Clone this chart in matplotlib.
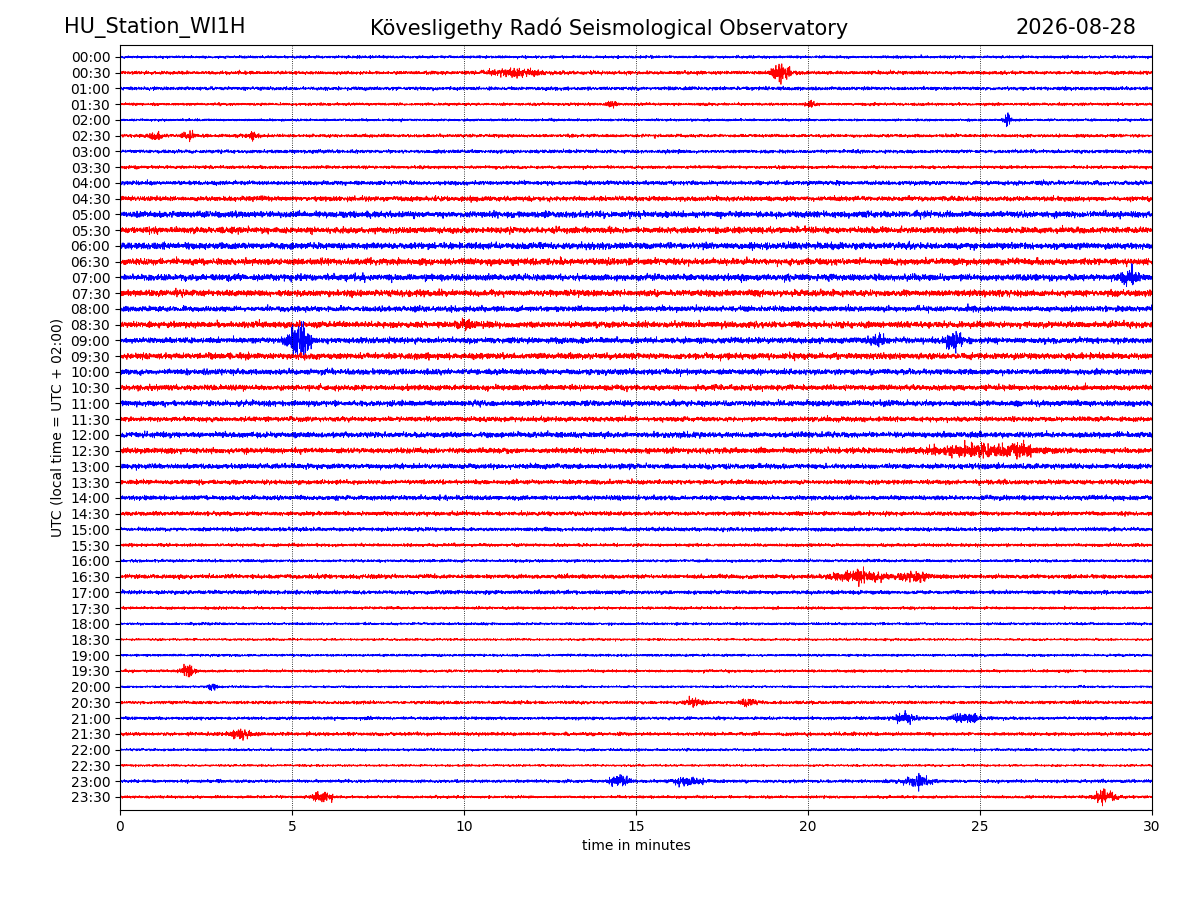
import matplotlib
matplotlib.use('Agg')
import matplotlib.pyplot as plt
import numpy as np

station = 'HU_Station_WI1H'
title = 'Kövesligethy Radó Seismological Observatory'
date = '2026-08-28'

row_labels = ['%02d:%02d' % (h, m) for h in range(24) for m in (0, 30)]

# background noise level of each half-hour row (in row units)
noise = [0.08, 0.10, 0.10, 0.08, 0.07, 0.09, 0.10, 0.09,
         0.12, 0.14, 0.18, 0.18, 0.19, 0.19, 0.19, 0.19,
         0.16, 0.18, 0.17, 0.18, 0.16, 0.16, 0.16, 0.14,
         0.16, 0.16, 0.15, 0.13, 0.13, 0.12, 0.11, 0.09,
         0.08, 0.12, 0.11, 0.08, 0.07, 0.06, 0.07, 0.08,
         0.06, 0.09, 0.09, 0.10, 0.07, 0.06, 0.09, 0.08]

# events: row index, minute, peak half-amplitude, duration (min)
ev_row = [1, 1, 3, 3, 4, 5, 5, 5, 14, 17, 18, 18, 18, 25, 25, 33, 33, 39, 40, 41, 41, 42, 42, 43, 46, 46, 46, 47, 47]
ev_min = [19.2, 11.5, 14.3, 20.1, 25.8, 1.0, 2.0, 3.9, 29.3, 10.0, 5.2, 24.2, 22.0, 26.2, 25.0, 21.5, 23.1, 2.0, 2.7, 16.7, 18.3, 22.8, 24.6, 3.5, 14.5, 16.5, 23.2, 5.9, 28.6]
ev_amp = [0.45, 0.22, 0.22, 0.2, 0.4, 0.22, 0.2, 0.2, 0.4, 0.3, 1.0, 0.6, 0.3, 0.45, 0.3, 0.3, 0.25, 0.3, 0.2, 0.25, 0.2, 0.3, 0.3, 0.3, 0.4, 0.25, 0.3, 0.3, 0.4]
ev_dur = [0.5, 1.5, 0.3, 0.3, 0.2, 0.4, 0.4, 0.3, 0.6, 0.4, 0.6, 0.5, 0.4, 0.4, 3.0, 1.5, 0.8, 0.4, 0.3, 0.5, 0.5, 0.6, 0.8, 0.5, 0.5, 0.8, 0.8, 0.6, 0.6]

fig = plt.figure(figsize=(12, 9), dpi=100)
ax = fig.add_axes([0.1, 0.1, 0.86, 0.85])

rng = np.random.default_rng(7)
t = np.linspace(0, 30, 6000)
for i in range(48):
    env = np.full_like(t, noise[i])
    for r, m, a, d in zip(ev_row, ev_min, ev_amp, ev_dur):
        if r == i:
            env = env + a * np.exp(-((t - m) / (d / 2)) ** 2)
    y = np.clip(rng.standard_normal(t.size) * env / 2.2, -1.2, 1.2)
    ax.plot(t, -i + y, color='blue' if i % 2 == 0 else 'red', lw=0.6)

ax.set_xlim(0, 30)
ax.set_ylim(-47.83, 0.76)
ax.set_yticks(-np.arange(48))
ax.set_yticklabels(row_labels)
ax.set_xticks(range(0, 31, 5))
for xv in range(5, 30, 5):
    ax.axvline(xv, color='black', ls=':', lw=0.6)
ax.set_xlabel('time in minutes')
ax.set_ylabel('UTC (local time = UTC + 02:00)')

fig.text(0.053, 0.969, station, fontsize=15, va='center')
fig.text(0.508, 0.969, title, fontsize=15, va='center', ha='center')
fig.text(0.947, 0.969, date, fontsize=15, va='center', ha='right')

fig.savefig('out.png')
